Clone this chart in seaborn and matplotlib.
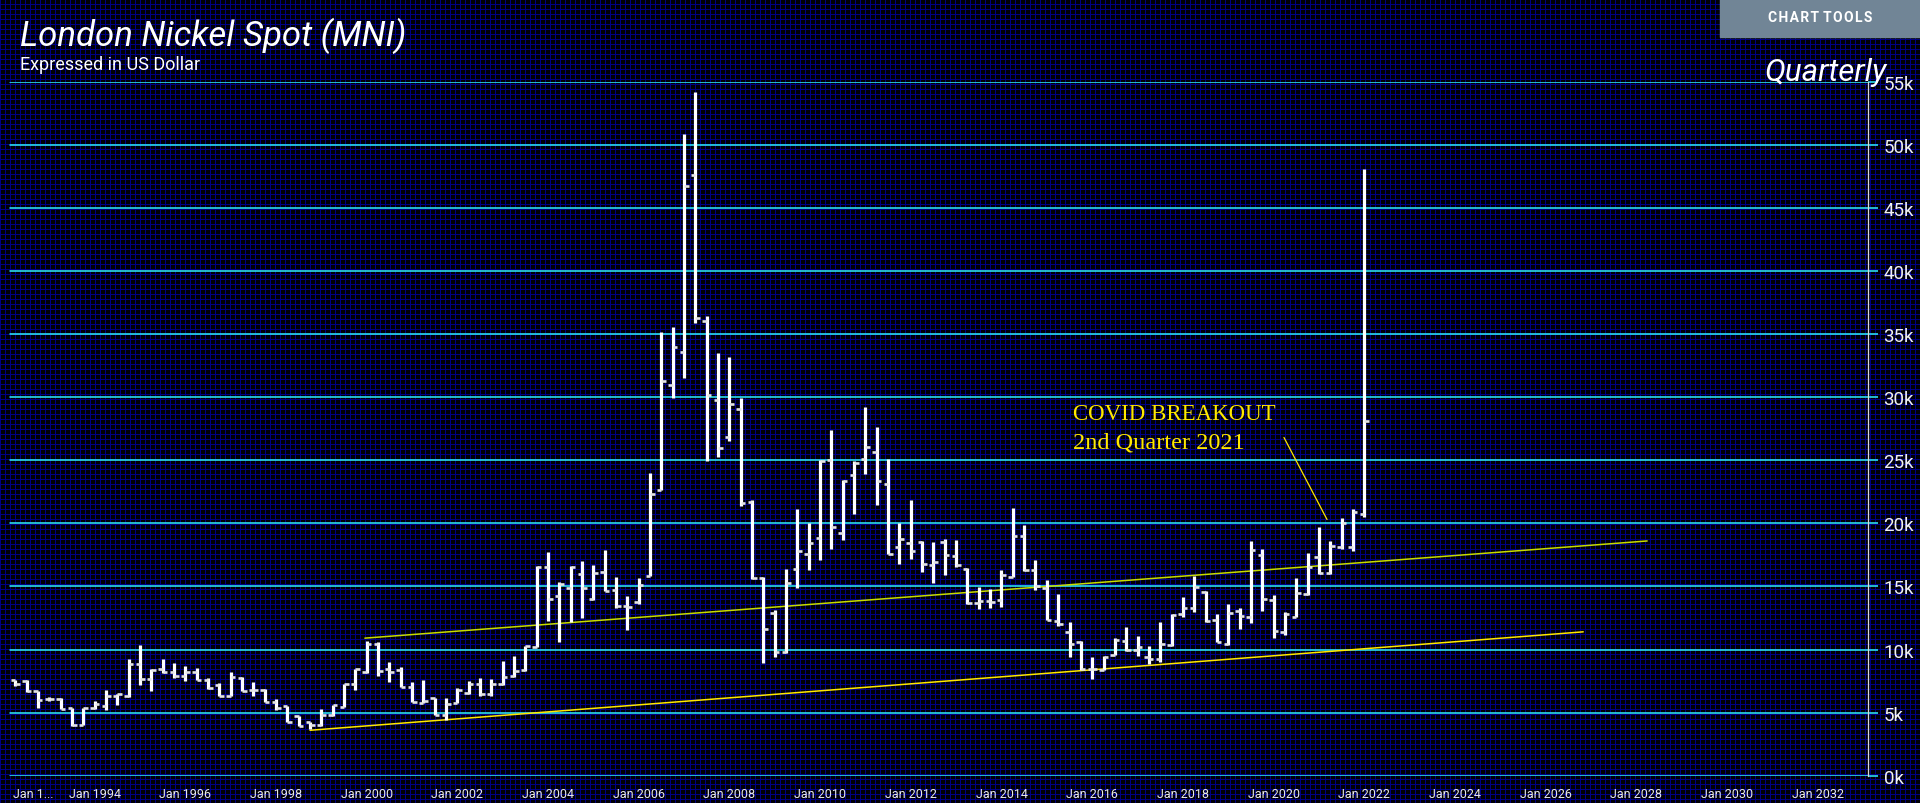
import numpy as np
import pandas as pd
import seaborn as sns
import matplotlib.pyplot as plt
from matplotlib.patches import Rectangle
from matplotlib.transforms import ScaledTranslation

# quarterly OHLC bars, Q2 1992 .. Q1 2022
quarters = pd.period_range("1992Q2", "2022Q1", freq="Q")

open_ = [7550, 7530, 6690, 6090, 6080, 5340, 4050, 5340, 5550, 6340,
         6340, 8850, 7660, 8460, 8190, 7870, 8190, 7610, 7210, 6340,
         7780, 6800, 6800, 5870, 5550, 4700, 4250, 4000, 4800, 5420,
         7270, 8190, 10450, 8460, 8400, 7060, 5800, 6130, 4840, 5770,
         6550, 7300, 6480, 7300, 7880, 8410, 10200, 16500, 14230, 14880,
         16000, 14040, 16140, 14720, 13480, 13750, 15820, 22620, 30980, 33560,
         47620, 36000, 29770, 26810, 29060, 21650, 15690, 12900, 9770, 16400,
         17600, 18830, 24980, 19220, 23790, 25080, 25630, 23100, 18120, 18440,
         18500, 16700, 18520, 17400, 16400, 13700, 13880, 13930, 15740, 19000,
         16270, 14860, 12290, 11400, 10570, 8450, 8400, 9560, 10700, 10000,
         9380, 9250, 10360, 12800, 13270, 14540, 12340, 10430, 13080, 12560,
         17460, 13930, 11410, 12560, 14410, 17330, 16060, 18120, 18120, 20730]
high = [7610, 7610, 6740, 6260, 6130, 5400, 5390, 5950, 6800, 6470,
        9250, 10360, 8460, 9250, 8930, 8670, 8530, 7720, 7350, 8190,
        7800, 7400, 6850, 6060, 5560, 4710, 4280, 5290, 5600, 7270,
        8460, 10700, 10570, 8980, 8590, 7400, 7580, 6130, 6130, 6920,
        7500, 7720, 7660, 9100, 9520, 10300, 16630, 17700, 15360, 16630,
        16990, 16660, 17860, 15750, 14230, 15650, 24010, 35180, 35570, 50820,
        54160, 36410, 33500, 33150, 29900, 21840, 15750, 13100, 16370, 21100,
        20040, 25020, 27380, 23430, 24920, 29190, 27640, 25080, 20040, 21860,
        18600, 18500, 18730, 18700, 16450, 14940, 14810, 16320, 21220, 19890,
        17110, 15520, 14410, 12160, 10700, 9380, 9510, 10880, 11760, 11100,
        10300, 12160, 12820, 14150, 15820, 14600, 12820, 13620, 13270, 18600,
        17990, 14330, 12950, 15660, 17640, 19710, 18600, 20430, 21130, 48100]
low = [7080, 6660, 5340, 5880, 5290, 3950, 4000, 5290, 5230, 5630,
       6250, 7200, 6740, 8140, 7780, 7480, 7570, 6900, 6310, 6300,
       6740, 6340, 5870, 5235, 4230, 3910, 3700, 3910, 4710, 5420,
       6820, 8140, 7880, 7450, 7000, 5870, 5800, 4810, 4440, 5770,
       6480, 6340, 6340, 7190, 7790, 8320, 10170, 12260, 10570, 12160,
       12520, 13960, 14620, 13250, 11540, 13640, 15820, 22620, 29900, 31520,
       35900, 24900, 25280, 26550, 21350, 15590, 8950, 9440, 9700, 14850,
       16310, 17080, 17960, 18700, 20770, 23910, 21420, 17540, 16760, 17170,
       16130, 15300, 15920, 16530, 13610, 13220, 13270, 13350, 15740, 16210,
       14730, 12340, 11890, 9380, 8400, 7650, 8400, 9560, 9900, 9510,
       8840, 8980, 10300, 12560, 12950, 12210, 10570, 10360, 11630, 12110,
       13090, 10910, 11150, 12560, 14330, 15970, 15970, 17960, 17820, 20500]
close = [7300, 6690, 6000, 6080, 5290, 4050, 5340, 5680, 6340, 6470,
         8850, 7660, 8380, 8190, 7870, 8190, 7610, 6930, 6340, 7800,
         6740, 6800, 5870, 5400, 4230, 3910, 4000, 4800, 5600, 7270,
         8420, 10450, 8300, 8190, 7060, 5870, 5950, 4810, 5650, 6820,
         7250, 6450, 7300, 7800, 8300, 10250, 16500, 13970, 15200, 16500,
         14880, 16080, 14620, 13480, 13380, 15110, 22300, 31300, 33990, 46740,
         36250, 30140, 25940, 29430, 21580, 15650, 11610, 9770, 15270, 17800,
         18440, 24920, 19700, 23370, 24760, 26050, 23370, 17540, 18730, 17770,
         16740, 16900, 17460, 16660, 13690, 13880, 13800, 15870, 19000, 16270,
         15020, 12370, 12030, 10430, 8450, 8450, 9380, 10780, 9980, 10170,
         9250, 10430, 12740, 13270, 14940, 12290, 10620, 12900, 12690, 17850,
         14010, 11440, 12820, 14460, 16530, 16060, 18200, 20000, 20900, 28070]

y_ticks = [0, 5000, 10000, 15000, 20000, 25000, 30000, 35000, 40000, 45000, 50000, 55000]
y_labels = ["0k", "5k", "10k", "15k", "20k", "25k", "30k", "35k", "40k", "45k", "50k", "55k"]
x_ticks = [1992, 1994, 1996, 1998, 2000, 2002, 2004, 2006, 2008, 2010,
           2012, 2014, 2016, 2018, 2020, 2022, 2024, 2026, 2028, 2030, 2032]
x_labels = ["Jan 1..."] + ["Jan %d" % y for y in x_ticks[1:]]

# hand drawn trend channel and pointer
upper_x = [1999.96, 2028.24]
upper_y = [10900, 18600]
lower_x = [1998.75, 2026.83]
lower_y = [3600, 11400]
pointer_x = [2020.23, 2021.18]
pointer_y = [26800, 20300]

df = pd.DataFrame({"x": quarters.year + (quarters.quarter - 1) / 4,
                   "open": open_, "high": high, "low": low, "close": close})

sns.set_style("dark")
plt.rcParams["font.family"] = ["Roboto", "DejaVu Sans"]

W, H = 1920, 804
fig = plt.figure(figsize=(W / 100, H / 100), dpi=100)
fig.patch.set_facecolor("black")

# blue mesh background
bg = np.zeros((H, W, 3))
bg[:, :] = (0.0, 0.0, 0.02)
bg[::5, :] = (0.0, 0.0, 0.52)
bg[:, ::5] = (0.0, 0.0, 0.52)
fig.figimage(bg, 0, 0, zorder=-10)

ax = fig.add_axes([0, (H - 776.7) / H, 1868 / W, (776.7 - 82.6) / H])
ax.set_facecolor("none")
ax.set_xlim(1991.912, 2033.111)
ax.set_ylim(0, 55000)

for v in y_ticks:
    ax.axhline(v, xmin=10 / 1868, xmax=1, color="#30f0ff", lw=1.1, zorder=1)

# trend lines
trend = pd.DataFrame({"x": upper_x + lower_x, "y": upper_y + lower_y,
                      "line": ["upper", "upper", "lower", "lower"]})
sns.lineplot(data=trend, x="x", y="y", hue="line", palette={"upper": "#c8dc00", "lower": "#ffe800"},
             lw=1.1, legend=False, ax=ax, zorder=2)
ax.plot(pointer_x, pointer_y, color="#ffe800", lw=0.9, zorder=2)

# OHLC bars
tick = 4.5 / 45.34
ax.vlines(df["x"], df["low"], df["high"], color="white", lw=2.3, zorder=3)
ax.hlines(df["open"], df["x"] - tick, df["x"], color="#e4e4e4", lw=1.9, zorder=3)
ax.hlines(df["close"], df["x"], df["x"] + tick, color="#e4e4e4", lw=1.9, zorder=3)

ax.text(2015.58, 28265, "COVID BREAKOUT", family=["Liberation Serif"], fontsize=16.5,
        color="#ffe800", va="baseline")
ax.text(2015.58, 25967, "2nd Quarter 2021", family=["Liberation Serif"], fontsize=17.5,
        color="#ffe800", va="baseline")

for s in ["top", "left", "bottom"]:
    ax.spines[s].set_visible(False)
ax.spines["right"].set_color("#d8d8d8")
ax.spines["right"].set_linewidth(0.9)

ax.yaxis.tick_right()
ax.set_yticks(y_ticks, y_labels)
ax.tick_params(axis="y", length=7.2, width=1.1, color="#30f0ff", pad=4,
               labelsize=13.5, labelcolor="#f0f0f0")
ax.set_xticks(x_ticks, x_labels)
ax.tick_params(axis="x", length=6, width=0.8, color="#909090", pad=2,
               labelsize=9, labelcolor="#e8e8e8")
first = ax.get_xticklabels()[0]
first.set_horizontalalignment("left")
first.set_transform(first.get_transform() + ScaledTranslation(9 / 100, 0, fig.dpi_scale_trans))
ax.set_xlabel("")
ax.set_ylabel("")
ax.grid(False)

fig.text(20 / W, (H - 46) / H, "London Nickel Spot (MNI)", fontsize=25, fontstyle="italic",
         color="white", va="baseline")
fig.text(20 / W, (H - 70) / H, "Expressed in US Dollar", fontsize=13, color="white", va="baseline")
fig.text(1887 / W, (H - 81) / H, "Quarterly", fontsize=22.5, fontstyle="italic", color="white",
         va="baseline", ha="right")

fig.patches.append(Rectangle((1720 / W, 1 - 38 / H), 200 / W, 38 / H, transform=fig.transFigure,
                             color="#718596", zorder=5))
fig.text(1820 / W, 1 - 18 / H, "C H A R T   T O O L S".replace(" ", "\u200a"), fontsize=10,
         fontweight="bold", color="white", ha="center", va="center", zorder=6)

fig.savefig("out.png", dpi=100, facecolor="black")
